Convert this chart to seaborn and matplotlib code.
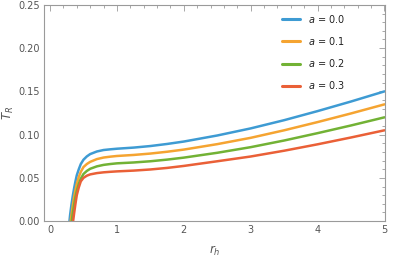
import matplotlib
matplotlib.use("Agg")
import matplotlib.pyplot as plt
from matplotlib.ticker import MultipleLocator
import seaborn as sns
import pandas as pd

# r_h grid
rh = [0.28, 0.30, 0.32, 0.34, 0.36, 0.38, 0.40, 0.43, 0.46, 0.50, 0.55, 0.60,
      0.70, 0.80, 0.90, 1.00, 1.25, 1.50, 1.75, 2.00, 2.50, 3.00, 3.50, 4.00, 4.50, 5.00]

T_a00 = [-0.008, 0.007, 0.019, 0.029, 0.038, 0.046, 0.053, 0.060, 0.066, 0.071, 0.0748, 0.0775,
         0.0805, 0.0822, 0.0830, 0.0837, 0.0850, 0.0868, 0.0892, 0.0920, 0.0990, 0.1072, 0.1167,
         0.1272, 0.1383, 0.1500]
T_a01 = [-0.017, -0.005, 0.007, 0.018, 0.028, 0.036, 0.043, 0.051, 0.057, 0.0625, 0.066, 0.0685,
         0.0717, 0.0735, 0.0745, 0.0753, 0.0765, 0.0781, 0.0802, 0.0827, 0.0890, 0.0963, 0.1050,
         0.1145, 0.1245, 0.1350]
T_a02 = [-0.026, -0.014, -0.003, 0.009, 0.019, 0.028, 0.035, 0.043, 0.049, 0.0545, 0.058, 0.0605,
         0.0633, 0.0650, 0.0660, 0.0668, 0.0678, 0.0692, 0.0711, 0.0734, 0.0790, 0.0855, 0.0932,
         0.1017, 0.1106, 0.1200]
T_a03 = [-0.037, -0.025, -0.013, -0.003, 0.009, 0.020, 0.030, 0.039, 0.046, 0.050, 0.0525, 0.054,
         0.0555, 0.0564, 0.0570, 0.0575, 0.0584, 0.0597, 0.0615, 0.0638, 0.0692, 0.0747, 0.0814,
         0.0888, 0.0967, 0.1050]

labels = ["$a$ = 0.0", "$a$ = 0.1", "$a$ = 0.2", "$a$ = 0.3"]
colors = ["#3E9BD3", "#F5A431", "#72B235", "#EA6037"]

series = [T_a00, T_a01, T_a02, T_a03]
df = pd.concat([pd.DataFrame({"rh": rh, "T": s, "a": lab}) for s, lab in zip(series, labels)],
               ignore_index=True)

sns.set_style("white")
plt.rcParams["font.family"] = ["DejaVu Sans"]
plt.rcParams["mathtext.fontset"] = "dejavusans"

fig = plt.figure(figsize=(3.93, 2.58), dpi=100)
ax = fig.add_axes([0.112, 0.143, 0.868, 0.838])

sns.lineplot(data=df, x="rh", y="T", hue="a", palette=colors, linewidth=1.8,
             ax=ax, sort=False, legend=False)

ax.set_xlim(-0.09, 5.01)
ax.set_ylim(0, 0.25)

gray = "#9a9a9a"
for sp in ax.spines.values():
    sp.set_color(gray)
    sp.set_linewidth(0.8)

ax.xaxis.set_major_locator(MultipleLocator(1))
ax.xaxis.set_minor_locator(MultipleLocator(0.2))
ax.yaxis.set_major_locator(MultipleLocator(0.05))
ax.yaxis.set_minor_locator(MultipleLocator(0.01))
ax.set_yticks([0, 0.05, 0.10, 0.15, 0.20, 0.25])
ax.set_yticklabels(["0.00", "0.05", "0.10", "0.15", "0.20", "0.25"])
ax.tick_params(which="both", direction="in", top=True, right=True, color=gray,
               labelcolor="#555555", labelsize=7, width=0.6)
ax.tick_params(which="major", length=4, pad=3)
ax.tick_params(which="minor", length=2)

ax.set_xlabel("$r_h$", fontsize=8.5, color="#555555", labelpad=6)
ax.set_ylabel("$T_R$", fontsize=8.5, color="#555555")
ax.yaxis.set_label_coords(-0.082, 0.5)

handles = [plt.Line2D([], [], color=c, lw=2.2) for c in colors]
ax.legend(handles, labels, loc="upper right", frameon=False, fontsize=7,
          handlelength=1.9, handletextpad=0.8, labelspacing=1.05,
          bbox_to_anchor=(0.908, 1.005), labelcolor="#222222")

fig.savefig("out.png", dpi=100)
